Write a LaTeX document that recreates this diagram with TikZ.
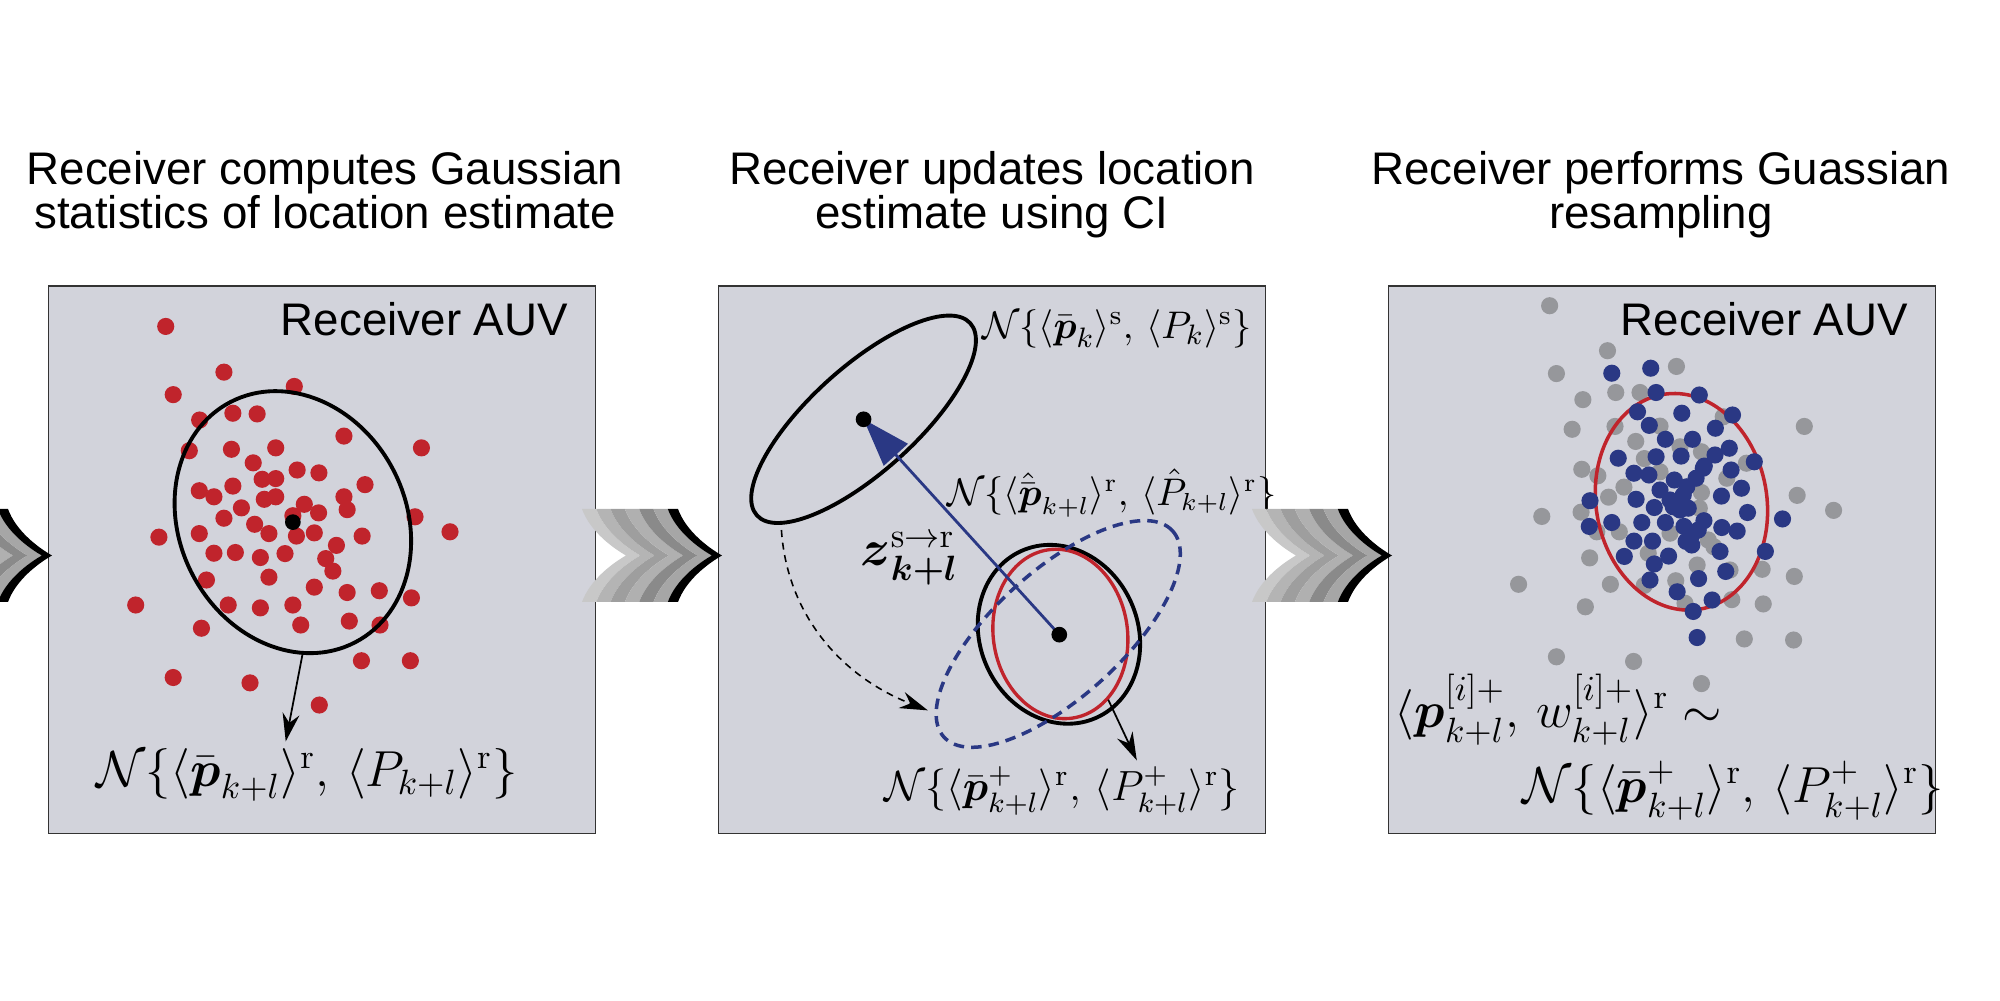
\documentclass[tikz,border=0pt]{standalone}
\usepackage{amsmath,amssymb}
\usepackage{fontspec}
\setsansfont{Liberation Sans}
\usepackage{tikz}
\usetikzlibrary{arrows.meta}

\definecolor{panelgray}{RGB}{210,211,219}
\definecolor{dotred}{RGB}{192,36,44}
\definecolor{dotblue}{RGB}{42,56,132}
\definecolor{dotgray}{RGB}{150,151,155}
\definecolor{chevA}{RGB}{200,200,200}
\definecolor{chevB}{RGB}{180,180,180}
\definecolor{chevC}{RGB}{158,158,158}
\definecolor{chevD}{RGB}{176,176,176}
\definecolor{chevE}{RGB}{138,138,138}
\definecolor{chevF}{RGB}{166,166,166}

% one band of a chevron, between left edge #2 and right edge #3
\newcommand{\chevband}[3]{%
  \fill[#1] (#2,491) -- (#3,491)
    .. controls ({#3+8},469) and ({#3+30},452.5) .. ({#3+44},444.5)
    .. controls ({#3+30},436.5) and ({#3+8},420) .. (#3,398)
    -- (#2,398)
    .. controls ({#2+8},420) and ({#2+30},436.5) .. ({#2+44},444.5)
    .. controls ({#2+30},452.5) and ({#2+8},469) .. cycle;}

\begin{document}
\begin{tikzpicture}[x=0.1mm, y=0.1mm,
  panel/.style={fill=panelgray, draw=black!80, line width=0.5pt},
  title/.style={font=\sffamily\fontsize{13}{12.5}\selectfont, align=center, anchor=north, inner sep=0pt},
  auv/.style={font=\sffamily\fontsize{13}{15}\selectfont, anchor=base east, inner sep=0pt},
  biglbl/.style={font=\fontsize{14}{17}\selectfont, inner sep=0pt, anchor=base west},
  midlbl/.style={font=\fontsize{11.1}{13}\selectfont, inner sep=0pt, anchor=base west},
  ellline/.style={line width=1.1pt},
  redline/.style={draw=dotred, line width=0.95pt},
  bluedash/.style={draw=dotblue, line width=1pt, dash pattern=on 3pt off 2pt},
  thinarrow/.style={-{Stealth[length=2.8mm,width=1.7mm]}, line width=0.5pt},
  vecarrow/.style={draw=dotblue, line width=0.8pt, -{Triangle[length=4.8mm,width=3.2mm]}},
  zoomgrid/.style={x=0.035714mm, y=0.035714mm}]
\useasboundingbox (0,0) rectangle (2000,1000);

% titles
\node[title] (tcomp) at (325,849) {Receiver computes Gaussian\\statistics of location estimate};
\node[title] (tupd) at (992,849) {Receiver updates location\\estimate using CI};
\node[title] (tres) at (1661,849) {Receiver performs Guassian\\resampling};

% panel 1: gaussian statistics
\begin{scope}[shift={(40,720)}, zoomgrid]
  \draw[panel] (24,-17) rectangle (1555,-1550);
  \node[auv] (auvA) at (1480,-155) {Receiver AUV};
  \foreach \dx/\dy in {352/130,515/258,712/298,373/321,540/373,608/375,447/392,851/437,1068/470,418/478,536/474,660/470,597/512,720/532,781/540,622/558,660/556,910/573,540/577,446/590,487/607,628/614,660/607,851/607,860/643,564/638,740/628,780/652,1050/663,515/667,601/684,708/660,1148/705,333/720,446/710,641/710,718/717,768/708,902/717,830/743,487/765,547/763,617/777,686/766,800/780,820/815,466/840,641/832,768/860,860/875,950/870,1040/890,268/910,527/910,617/918,708/910,452/975,730/966,866/955,952/966,900/1066,1037/1066,373/1113,588/1128,782/1190}
    \fill[dotred] (\dx,-\dy) circle (24);
  \coordinate (meanA) at (708,-678);
  \draw[ellline, rotate around={27.4:(meanA)}] (meanA) ellipse [x radius=317, y radius=379];
  \fill (meanA) circle (22);
  \coordinate (ellA) at (735,-1048);
  \node[biglbl, anchor=base] (gaussA) at (748,-1418) {$\mathcal{N}\{\langle\bar{\boldsymbol{p}}_{k+l}\rangle^{\mathrm{r}},\,\langle P_{k+l}\rangle^{\mathrm{r}}\}$};
  \coordinate (tipA) at (688,-1292);
  \draw[thinarrow] (ellA) -- (tipA);
\end{scope}

% panel 2: covariance intersection
\begin{scope}[shift={(710,720)}, zoomgrid]
  \draw[panel] (24,-17) rectangle (1555,-1550);
  \coordinate (snd) at (430,-390);
  \coordinate (rcv) at (978,-993);
  \draw[ellline, rotate around={42:(snd)}] (snd) ellipse [x radius=402, y radius=147];
  \draw[ellline, rotate around={24.4:(977,-992)}] (977,-992) ellipse [x radius=221, y radius=256];
  \draw[redline, rotate around={8:(981,-991)}] (981,-991) ellipse [x radius=188, y radius=238];
  \draw[bluedash, rotate around={42:(975,-991)}] (975,-991) ellipse [x radius=431, y radius=178];
  \draw[vecarrow] (rcv) -- (snd);
  \fill (snd) circle (22);
  \fill (rcv) circle (22);
  \coordinate (arcS) at (200,-700);
  \coordinate (arcE) at (610,-1205);
  \draw[thinarrow, line width=0.45pt, dash pattern=on 2pt off 1.6pt] (arcS) .. controls (215,-930) and (360,-1107) .. (arcE);
  \coordinate (ellB) at (1115,-1175);
  \coordinate (tipB) at (1195,-1345);
  \draw[thinarrow] (ellB) -- (tipB);
  \node[midlbl] (gsnd) at (760,-163) {$\mathcal{N}\{\langle\bar{\boldsymbol{p}}_{k}\rangle^{\mathrm{s}},\,\langle P_{k}\rangle^{\mathrm{s}}\}$};
  \node[midlbl, font=\fontsize{10.5}{13}\selectfont] (gpred) at (662,-630) {$\mathcal{N}\{\langle\hat{\bar{\boldsymbol{p}}}_{k+l}\rangle^{\mathrm{r}},\,\langle \hat{P}_{k+l}\rangle^{\mathrm{r}}\}$};
  \node[biglbl] (meas) at (420,-800) {$\boldsymbol{z}^{\mathrm{s}\rightarrow\mathrm{r}}_{\boldsymbol{k+l}}$};
  \node[midlbl, font=\fontsize{12.1}{15}\selectfont] (gupd) at (487,-1458) {$\mathcal{N}\{\langle\bar{\boldsymbol{p}}^{+}_{k+l}\rangle^{\mathrm{r}},\,\langle P^{+}_{k+l}\rangle^{\mathrm{r}}\}$};
\end{scope}

% panel 3: resampling
\begin{scope}[shift={(1380,720)}, zoomgrid]
  \draw[panel] (24,-17) rectangle (1555,-1550);
  \node[auv] (auvC) at (1480,-155) {Receiver AUV};
  \foreach \dx/\dy in {475/72,637/198,494/262,830/242,568/335,660/315,728/315,538/418,658/410,1188/410,716/452,565/530,610/548,740/500,1168/603,1270/645,453/662,563/650,640/608,683/580,900/595,587/778,670/705,388/852,645/852,575/915,740/855,828/842,888/798,1070/810,1160/830,985/895,1073/907,1020/1005,1158/1008,494/1055,710/1068,900/1130,840/467,900/481,607/705,784/537,971/555,1026/513,894/639,812/709,919/728,935/747,751/765,980/812,854/905,961/383,784/409}
    \fill[dotgray] (\dx,-\dy) circle (24);
  \draw[redline, line width=1pt, rotate around={10:(844,-621)}] (844,-621) ellipse [x radius=239, y radius=305];
  \foreach \dx/\dy in {649/261,758/247,773/315,894/322,721/369,845/373,987/378,754/407,939/415,799/446,875/446,978/471,667/499,773/495,843/493,938/490,1048/509,908/521,711/541,753/546,983/532,824/560,885/555,1012/583,588/618,717/614,784/588,849/602,956/605,768/637,826/625,840/644,863/639,1029/651,1127/669,586/690,649/679,733/679,799/679,851/690,907/674,891/700,957/693,1000/703,711/731,763/731,857/732,873/742,952/760,1079/760,684/774,808/773,768/795,968/816,756/840,892/836,832/873,930/896,877/928,888/1001,821/635,859/579,905/527,812/616,873/714}
    \fill[dotblue] (\dx,-\dy) circle (24);
  \node[biglbl] (smpl) at (40,-1252) {$\langle\boldsymbol{p}^{[i]+}_{k+l},\,w^{[i]+}_{k+l}\rangle^{\mathrm{r}}\sim$};
  \node[biglbl] (gres) at (398,-1462) {$\mathcal{N}\{\langle\bar{\boldsymbol{p}}^{+}_{k+l}\rangle^{\mathrm{r}},\,\langle P^{+}_{k+l}\rangle^{\mathrm{r}}\}$};
\end{scope}

% chevrons between the panels
\foreach \s in {-670,0,670} {
  \begin{scope}[shift={(\s,0)}]
    \foreach \col [count=\i from 0] in {chevA,chevB,chevC,chevD,chevE,chevF} {
      \pgfmathsetmacro\xl{582+14.3*\i}
      \pgfmathsetmacro\xr{\xl+14.3}
      \chevband{\col}{\xl}{\xr}
    }
    \chevband{black}{667.8}{678}
  \end{scope}
}
\end{tikzpicture}
\end{document}
